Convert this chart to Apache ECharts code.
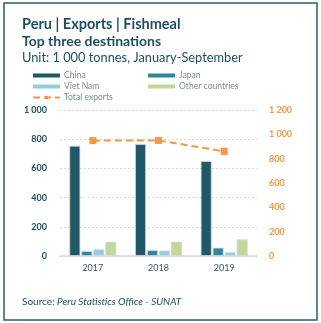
<!DOCTYPE html>
<html>
<head>
<meta charset="utf-8">
<script src="https://cdn.jsdelivr.net/npm/echarts@6/dist/echarts.min.js"></script>
<style>
  html, body { margin: 0; padding: 0; background: #fff; }
  #chart { width: 321px; height: 323px; }
</style>
</head>
<body>
<div id="chart"></div>
<script>
// Peru fishmeal exports, January-September, 1 000 tonnes
const years = ['2017', '2018', '2019'];
const china = [755, 767, 650];
const japan = [34, 40, 57];
const vietNam = [46, 38, 27];
const otherCountries = [98, 98, 114];
const totalExports = [948, 950, 860];
const leftTicks = { min: 0, max: 1000, interval: 200 };
const rightTicks = { min: 0, max: 1200, interval: 200 };

const FONT = 'Lato, "Open Sans", sans-serif';
const fmt = v => String(v).replace(/\B(?=(\d{3})+(?!\d))/g, ' ');

const chart = echarts.init(document.getElementById('chart'), null, { renderer: 'canvas' });

const barStyle = color => ({ color: color, borderColor: '#d5dbde', borderWidth: 0.8 });
const legendText = { fontSize: 8.6, color: '#7a8a92', lineHeight: 11, padding: [0, 0, 0, -1] };

chart.setOption({
  animation: false,
  textStyle: { fontFamily: FONT },
  graphic: [
    { type: 'rect', shape: { x: 4, y: 3, width: 313, height: 317 },
      style: { fill: 'none', stroke: '#2c5d6c', lineWidth: 1.5 } },
    { type: 'text', left: 22, top: 17,
      style: { text: 'Peru | Exports | Fishmeal', font: 'bold 14.5px ' + FONT, fill: '#1f4e5f' } },
    { type: 'text', left: 22, top: 34,
      style: { text: 'Top three destinations', font: 'bold 14px ' + FONT, fill: '#1f4e5f' } },
    { type: 'text', left: 22, top: 51,
      style: { text: 'Unit: 1 000 tonnes, January-September', font: '12.8px ' + FONT, fill: '#1f4e5f' } },
    { type: 'text', left: 22, top: 297,
      style: { rich: { a: { font: '10px ' + FONT, fill: '#1f4e5f' }, b: { font: 'italic 10px ' + FONT, fill: '#1f4e5f' } },
               text: '{a|Source: }{b|Peru Statistics Office - SUNAT}' } }
  ],
  legend: [
    { left: 27, top: 65, orient: 'vertical', itemWidth: 27, itemHeight: 4, itemGap: 0,
      itemStyle: { borderWidth: 0 }, textStyle: legendText,
      data: [{ name: 'China', icon: 'rect' }, { name: 'Viet Nam', icon: 'rect' }, { name: 'Total exports' }] },
    { left: 143, top: 65, orient: 'vertical', itemWidth: 27, itemHeight: 4, itemGap: 0,
      itemStyle: { borderWidth: 0 }, textStyle: legendText,
      data: [{ name: 'Japan', icon: 'rect' }, { name: 'Other countries', icon: 'rect' }] }
  ],
  grid: { left: 60, right: 64, top: 110, bottom: 67 },
  xAxis: {
    type: 'category', data: years,
    axisLine: { lineStyle: { color: '#d9d9d9', width: 1.5 } },
    axisTick: { show: false },
    axisLabel: { fontSize: 9, color: '#3f5560', margin: 8 }
  },
  yAxis: [
    { type: 'value', min: leftTicks.min, max: leftTicks.max, interval: leftTicks.interval,
      axisLabel: { fontSize: 9, color: '#1f4e5f', fontWeight: 'bold', formatter: fmt, margin: 13 },
      splitLine: { lineStyle: { color: '#d9d9d9', type: [2, 2] } },
      axisLine: { show: false }, axisTick: { show: false } },
    { type: 'value', min: rightTicks.min, max: rightTicks.max, interval: rightTicks.interval,
      position: 'right',
      axisLabel: { fontSize: 9, color: '#f79646', fontWeight: 'bold', formatter: fmt, margin: 12 },
      splitLine: { show: false }, axisLine: { show: false }, axisTick: { show: false } }
  ],
  series: [
    { name: 'China', type: 'bar', data: china, barWidth: 11, barGap: '9%', itemStyle: barStyle('#215868') },
    { name: 'Japan', type: 'bar', data: japan, barWidth: 11, barGap: '9%', itemStyle: barStyle('#31859c') },
    { name: 'Viet Nam', type: 'bar', data: vietNam, barWidth: 11, barGap: '9%', itemStyle: barStyle('#93cddd') },
    { name: 'Other countries', type: 'bar', data: otherCountries, barWidth: 11, barGap: '9%', itemStyle: barStyle('#c3d69b') },
    { name: 'Total exports', type: 'line', yAxisIndex: 1, data: totalExports,
      symbol: 'rect', symbolSize: 7,
      itemStyle: { color: '#f79646' },
      lineStyle: { color: '#f79646', width: 2, type: [7, 4] } }
  ]
});
</script>
</body>
</html>
